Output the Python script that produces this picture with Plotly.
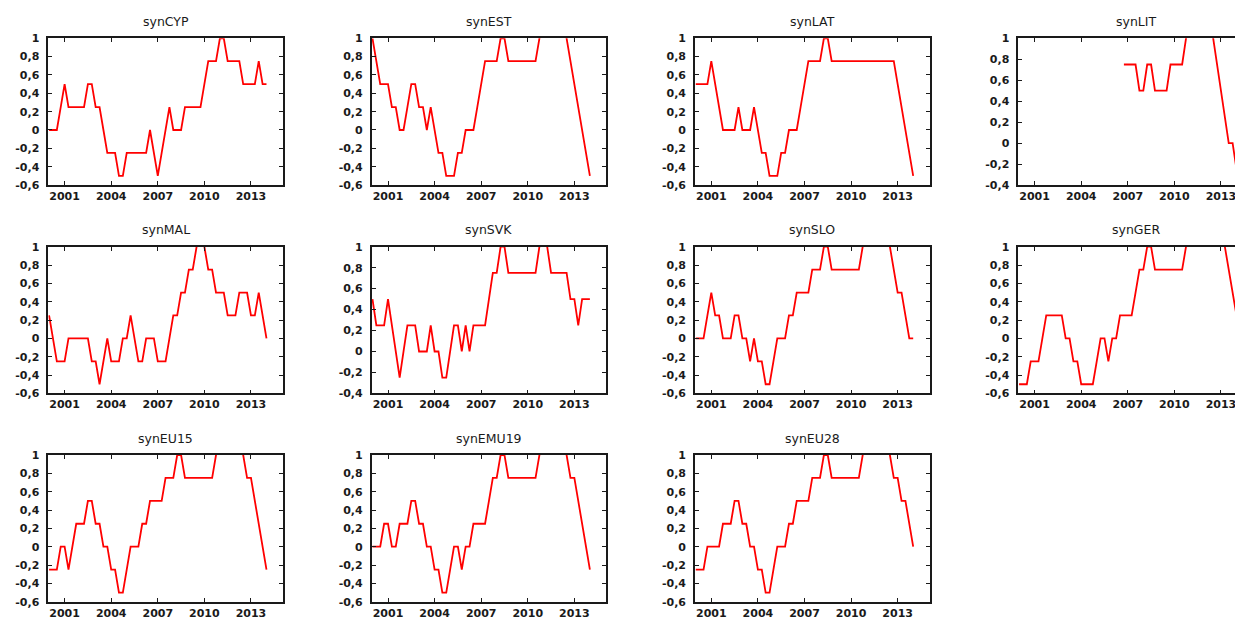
import pandas as pd
import plotly.graph_objects as go

# quarterly index 2000Q1 .. 2014Q1
quarters = pd.period_range("2000Q1", "2014Q1", freq="Q")
x_years = [q.year + (q.quarter - 1) / 4 for q in quarters]

# values above 1 run off the top of the frame (clipped)
synCYP = [0, 0, 0, 0.25, 0.5, 0.25, 0.25, 0.25, 0.25, 0.25, 0.5, 0.5, 0.25, 0.25, 0,
          -0.25, -0.25, -0.25, -0.5, -0.5, -0.25, -0.25, -0.25, -0.25, -0.25, -0.25, 0,
          -0.25, -0.5, -0.25, 0, 0.25, 0, 0, 0, 0.25, 0.25, 0.25, 0.25, 0.25, 0.5,
          0.75, 0.75, 0.75, 1, 1, 0.75, 0.75, 0.75, 0.75, 0.5, 0.5, 0.5, 0.5, 0.75, 0.5, 0.5]
synEST = [1, 0.75, 0.5, 0.5, 0.5, 0.25, 0.25, 0, 0, 0.25, 0.5, 0.5, 0.25, 0.25, 0, 0.25,
          0, -0.25, -0.25, -0.5, -0.5, -0.5, -0.25, -0.25, 0, 0, 0, 0.25, 0.5, 0.75, 0.75,
          0.75, 0.75, 1, 1, 0.75, 0.75, 0.75, 0.75, 0.75, 0.75, 0.75, 0.75, 1, 1.25, 1.25,
          1.25, 1.25, 1.25, 1.25, 1, 0.75, 0.5, 0.25, 0, -0.25, -0.5]
synLAT = [0.5, 0.5, 0.5, 0.5, 0.75, 0.5, 0.25, 0, 0, 0, 0, 0.25, 0, 0, 0, 0.25, 0, -0.25,
          -0.25, -0.5, -0.5, -0.5, -0.25, -0.25, 0, 0, 0, 0.25, 0.5, 0.75, 0.75, 0.75, 0.75,
          1, 1, 0.75, 0.75, 0.75, 0.75, 0.75, 0.75, 0.75, 0.75, 0.75, 0.75, 0.75, 0.75, 0.75,
          0.75, 0.75, 0.75, 0.75, 0.5, 0.25, 0, -0.25, -0.5]
synLIT = [None, None, None, None, None, None, None, None, None, None, None, None, None, None,
          None, None, None, None, None, None, None, None, None, None, None, None, None,
          0.75, 0.75, 0.75, 0.75, 0.5, 0.5, 0.75, 0.75, 0.5, 0.5, 0.5, 0.5, 0.75, 0.75, 0.75,
          0.75, 1, 1.25, 1.25, 1.25, 1.25, 1.25, 1.25, 1, 0.75, 0.5, 0.25, 0, 0, -0.25]
synMAL = [0.25, 0, -0.25, -0.25, -0.25, 0, 0, 0, 0, 0, 0, -0.25, -0.25, -0.5, -0.25, 0,
          -0.25, -0.25, -0.25, 0, 0, 0.25, 0, -0.25, -0.25, 0, 0, 0, -0.25, -0.25, -0.25, 0,
          0.25, 0.25, 0.5, 0.5, 0.75, 0.75, 1, 1.25, 1, 0.75, 0.75, 0.5, 0.5, 0.5, 0.25, 0.25,
          0.25, 0.5, 0.5, 0.5, 0.25, 0.25, 0.5, 0.25, 0]
synSVK = [0.5, 0.25, 0.25, 0.25, 0.5, 0.25, 0, -0.25, 0, 0.25, 0.25, 0.25, 0, 0, 0, 0.25,
          0, 0, -0.25, -0.25, 0, 0.25, 0.25, 0, 0.25, 0, 0.25, 0.25, 0.25, 0.25, 0.5, 0.75,
          0.75, 1, 1, 0.75, 0.75, 0.75, 0.75, 0.75, 0.75, 0.75, 0.75, 1, 1.25, 1, 0.75, 0.75,
          0.75, 0.75, 0.75, 0.5, 0.5, 0.25, 0.5, 0.5, 0.5]
synSLO = [0, 0, 0, 0.25, 0.5, 0.25, 0.25, 0, 0, 0, 0.25, 0.25, 0, 0, -0.25, 0, -0.25, -0.25,
          -0.5, -0.5, -0.25, 0, 0, 0, 0.25, 0.25, 0.5, 0.5, 0.5, 0.5, 0.75, 0.75, 0.75, 1, 1,
          0.75, 0.75, 0.75, 0.75, 0.75, 0.75, 0.75, 0.75, 1, 1.25, 1.25, 1.25, 1.25, 1.25,
          1.25, 1, 0.75, 0.5, 0.5, 0.25, 0, 0]
synGER = [-0.5, -0.5, -0.5, -0.25, -0.25, -0.25, 0, 0.25, 0.25, 0.25, 0.25, 0.25, 0, 0,
          -0.25, -0.25, -0.5, -0.5, -0.5, -0.5, -0.25, 0, 0, -0.25, 0, 0, 0.25, 0.25, 0.25,
          0.25, 0.5, 0.75, 0.75, 1, 1, 0.75, 0.75, 0.75, 0.75, 0.75, 0.75, 0.75, 0.75, 1,
          1.25, 1.25, 1.25, 1.25, 1.25, 1.25, 1.25, 1.25, 1.25, 1, 0.75, 0.5, 0.25]
synEU15 = [-0.25, -0.25, -0.25, 0, 0, -0.25, 0, 0.25, 0.25, 0.25, 0.5, 0.5, 0.25, 0.25, 0,
           0, -0.25, -0.25, -0.5, -0.5, -0.25, 0, 0, 0, 0.25, 0.25, 0.5, 0.5, 0.5, 0.5, 0.75,
           0.75, 0.75, 1, 1, 0.75, 0.75, 0.75, 0.75, 0.75, 0.75, 0.75, 0.75, 1, 1.25, 1.25,
           1.25, 1.25, 1.25, 1.25, 1, 0.75, 0.75, 0.5, 0.25, 0, -0.25]
synEMU19 = [0, 0, 0, 0.25, 0.25, 0, 0, 0.25, 0.25, 0.25, 0.5, 0.5, 0.25, 0.25, 0, 0, -0.25,
            -0.25, -0.5, -0.5, -0.25, 0, 0, -0.25, 0, 0, 0.25, 0.25, 0.25, 0.25, 0.5, 0.75,
            0.75, 1, 1, 0.75, 0.75, 0.75, 0.75, 0.75, 0.75, 0.75, 0.75, 1, 1.25, 1.25, 1.25,
            1.25, 1.25, 1.25, 1, 0.75, 0.75, 0.5, 0.25, 0, -0.25]
synEU28 = [-0.25, -0.25, -0.25, 0, 0, 0, 0, 0.25, 0.25, 0.25, 0.5, 0.5, 0.25, 0.25, 0, 0,
           -0.25, -0.25, -0.5, -0.5, -0.25, 0, 0, 0, 0.25, 0.25, 0.5, 0.5, 0.5, 0.5, 0.75,
           0.75, 0.75, 1, 1, 0.75, 0.75, 0.75, 0.75, 0.75, 0.75, 0.75, 0.75, 1, 1.25, 1.25,
           1.25, 1.25, 1.25, 1.25, 1, 0.75, 0.75, 0.5, 0.5, 0.25, 0]

panels = [("synCYP", synCYP), ("synEST", synEST), ("synLAT", synLAT), ("synLIT", synLIT),
          ("synMAL", synMAL), ("synSVK", synSVK), ("synSLO", synSLO), ("synGER", synGER),
          ("synEU15", synEU15), ("synEMU19", synEMU19), ("synEU28", synEU28)]
short_axis = ["synLIT", "synSVK"]  # these start at -0,4

x_tickvals = [2001, 2004, 2007, 2010, 2013]
x_ticktext = ["2001", "2004", "2007", "2010", "2013"]
y_tickvals = [-0.6, -0.4, -0.2, 0, 0.2, 0.4, 0.6, 0.8, 1]
y_ticktext = ["-0,6", "-0,4", "-0,2", "0", "0,2", "0,4", "0,6", "0,8", "1"]

W, H = 1243, 619
PAD = 8  # page body margin: figure is drawn 8px in from the window corner
col_left = [48.3, 371.7, 695, 1018.3]
panel_w = 234.5
row_top = [38.3, 246.7, 455]
panel_h = 146.7
x_lo, x_hi = 1999.95, 2015.05

fig = go.Figure()
tick_font = dict(family="DejaVu Sans", size=11, color="#1a1a1a", weight="bold")

for i, (name, vals) in enumerate(panels):
    r, c = divmod(i, 4)
    n = i + 1
    xa, ya = ("x" if n == 1 else f"x{n}"), ("y" if n == 1 else f"y{n}")
    fig.add_trace(go.Scatter(x=x_years, y=vals, mode="lines", xaxis=xa, yaxis=ya,
                             line=dict(color="#ff0000", width=1.8), connectgaps=False,
                             showlegend=False, hoverinfo="skip"))

    left = col_left[c] - PAD
    right = min(left + panel_w, W - PAD)
    xr_hi = x_lo + (x_hi - x_lo) * (right - left) / panel_w
    cut = right < left + panel_w
    top = row_top[r] - PAD
    y_lo = -0.4 if name in short_axis else -0.6
    tv = [v for v in y_tickvals if v >= y_lo - 1e-9]
    tt = y_ticktext[len(y_tickvals) - len(tv):]

    axis_common = dict(showgrid=False, zeroline=False, showline=True, linecolor="#1a1a1a",
                       linewidth=1.6, ticks="inside", ticklen=4, tickcolor="#1a1a1a",
                       tickwidth=1.2, tickfont=tick_font, fixedrange=True, automargin=False)
    fig.layout[("xaxis" if n == 1 else f"xaxis{n}")] = dict(
        axis_common, domain=[left / W, right / W], range=[x_lo, xr_hi],
        anchor=ya, tickvals=x_tickvals, ticktext=x_ticktext, mirror="ticks",
        ticklabelstandoff=0)
    fig.layout[("yaxis" if n == 1 else f"yaxis{n}")] = dict(
        axis_common, domain=[1 - (top + panel_h) / H, 1 - top / H],
        range=[y_lo, 1], anchor=xa, tickvals=tv, ticktext=tt,
        mirror=False if cut else "ticks", ticklabelstandoff=5)

    fig.add_annotation(text=name, xref="paper", yref="paper",
                       x=(left + panel_w / 2) / W, y=1 - (top - 17) / H,
                       xanchor="center", yanchor="middle", showarrow=False,
                       font=dict(family="DejaVu Sans", size=12.5, color="#1a1a1a"))

fig.update_layout(width=W, height=H, margin=dict(l=0, r=0, t=0, b=0, autoexpand=False),
                  paper_bgcolor="white", plot_bgcolor="white")
fig.write_html("out.html")
